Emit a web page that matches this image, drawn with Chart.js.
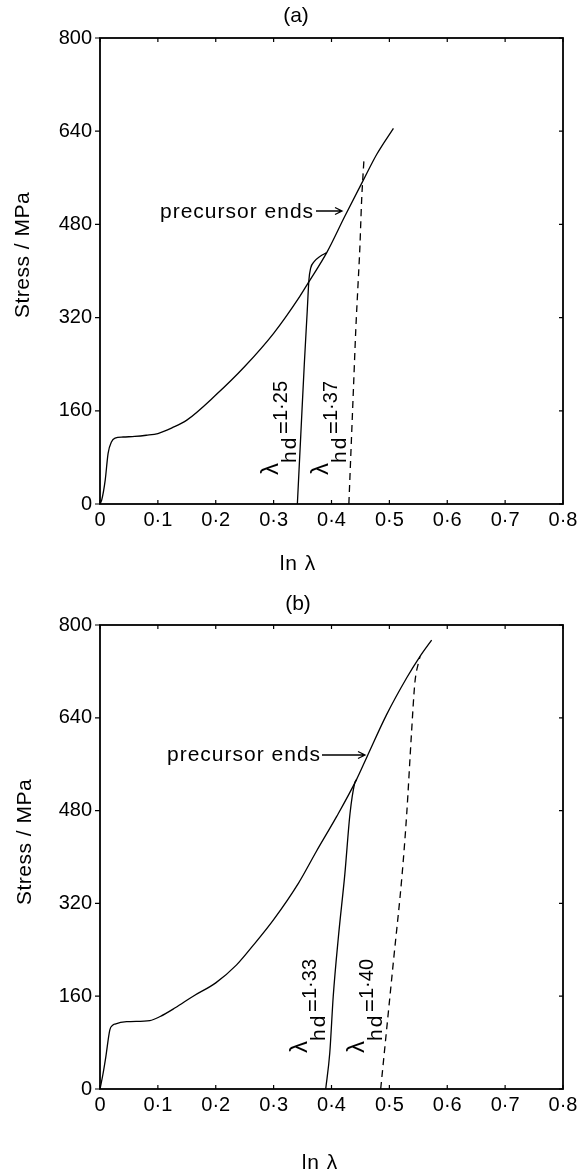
<!DOCTYPE html>
<html><head><meta charset="utf-8">
<script src="https://cdn.jsdelivr.net/npm/chart.js@4.4.1/dist/chart.umd.min.js"></script>
<style>
html,body{margin:0;padding:0;background:#fff;}
#wrap{position:relative;width:582px;height:1172px;overflow:hidden;}
canvas{position:absolute;left:0;}
</style></head><body>
<div id="wrap">
<canvas id="ca" width="582" height="586" style="top:0"></canvas>
<canvas id="cb" width="582" height="586" style="top:586px"></canvas>
</div>
<script>
// ---- tick values / labels ----
const xTickValues = [0, 0.1, 0.2, 0.3, 0.4, 0.5, 0.6, 0.7, 0.8];
const xTickLabels = ['0', '0·1', '0·2', '0·3', '0·4', '0·5', '0·6', '0·7', '0·8'];
const yTickValues = [0, 160, 320, 480, 640, 800];
const yTickLabels = ['0', '160', '320', '480', '640', '800'];

// ---- panel (a) ----
const aMainX = [0, 0.003, 0.009, 0.014, 0.020, 0.026, 0.040, 0.060, 0.080, 0.100, 0.125, 0.150, 0.200, 0.250, 0.300, 0.345, 0.360, 0.392, 0.423, 0.455, 0.478, 0.507];
const aMainY = [0, 7, 41, 87, 107, 113, 115, 116, 118, 121, 131, 144, 187, 236, 293, 356, 380, 432, 494, 556, 600, 645];
const a125X = [0.341, 0.347, 0.353, 0.358, 0.361, 0.364, 0.370, 0.380, 0.391];
const a125Y = [0, 120, 240, 330, 385, 405, 416, 425, 431];
const a137X = [0.430, 0.434, 0.438, 0.442, 0.446, 0.449, 0.452, 0.456];
const a137Y = [0, 100, 200, 300, 380, 440, 520, 590];

// ---- panel (b) ----
const bMainX = [0, 0.005, 0.010, 0.017, 0.022, 0.026, 0.046, 0.086, 0.104, 0.130, 0.161, 0.200, 0.236, 0.265, 0.300, 0.343, 0.374, 0.409, 0.443, 0.461, 0.495, 0.530, 0.553, 0.573];
const bMainY = [0, 25, 55, 102, 110, 112, 116, 118, 125, 140, 160, 183, 214, 248, 292, 355, 410, 470, 533, 572, 645, 709, 746, 774];
const b133X = [0.390, 0.397, 0.403, 0.412, 0.423, 0.432, 0.440, 0.443];
const b133Y = [0, 62, 160, 263, 370, 475, 527, 533];
const b140X = [0.485, 0.495, 0.507, 0.522, 0.530, 0.538, 0.544, 0.550, 0.553];
const b140Y = [0, 100, 220, 370, 475, 610, 700, 734, 746];

const FONT = 'Liberation Sans, Arial, sans-serif';
const pts = (xs, ys) => xs.map((x, i) => ({x: x, y: ys[i]}));

function drawArrow(ctx, x1, x2, y) {
  ctx.beginPath();
  ctx.moveTo(x1, y); ctx.lineTo(x2, y);
  ctx.moveTo(x2 - 7, y - 3.5); ctx.lineTo(x2, y); ctx.lineTo(x2 - 7, y + 3.5);
  ctx.stroke();
}

function drawLambda(ctx, bx, sy, val) {
  ctx.save();
  ctx.translate(bx, sy);
  ctx.rotate(-Math.PI / 2);
  ctx.textAlign = 'left';
  ctx.textBaseline = 'alphabetic';
  ctx.font = '24px ' + FONT;
  ctx.fillText('λ', 0, 1);
  ctx.font = '21px ' + FONT;
  ctx.letterSpacing = '2px';
  ctx.fillText('hd', 12, 19);
  ctx.letterSpacing = '0px';
  ctx.font = '22px ' + FONT;
  ctx.fillText('=', 41, 14);
  ctx.font = '20px ' + FONT;
  ctx.fillText(val, 54, 10);
  ctx.restore();
}

const annot = {
  id: 'annot',
  afterDraw(chart, args, o) {
    const ctx = chart.ctx, ca = chart.chartArea;
    const xs = chart.scales.x, ys = chart.scales.y;
    ctx.save();
    ctx.strokeStyle = '#000';
    ctx.fillStyle = '#000';
    ctx.lineWidth = 1.8;
    ctx.strokeRect(ca.left, ca.top, ca.right - ca.left, ca.bottom - ca.top);
    ctx.lineWidth = 1.2;
    ctx.beginPath();
    xTickValues.forEach(v => {
      const p = xs.getPixelForValue(v);
      ctx.moveTo(p, ca.bottom); ctx.lineTo(p, ca.bottom - 4);
      ctx.moveTo(p, ca.top); ctx.lineTo(p, ca.top + 4);
    });
    yTickValues.forEach(v => {
      const p = ys.getPixelForValue(v);
      ctx.moveTo(ca.left, p); ctx.lineTo(ca.left - 5, p);
      ctx.moveTo(ca.right, p); ctx.lineTo(ca.right - 4, p);
    });
    ctx.stroke();

    ctx.textAlign = 'center';
    ctx.textBaseline = 'middle';
    ctx.font = '21px ' + FONT;
    ctx.fillText(o.title, o.titlePos[0], o.titlePos[1]);
    ctx.letterSpacing = '1px';
    ctx.fillText('ln λ', o.xTitlePos[0], o.xTitlePos[1]);
    ctx.letterSpacing = '0.5px';
    ctx.save();
    ctx.translate(o.yTitlePos[0], o.yTitlePos[1]);
    ctx.rotate(-Math.PI / 2);
    ctx.fillText('Stress / MPa', 0, 0);
    ctx.restore();

    ctx.textAlign = 'left';
    ctx.letterSpacing = '1px';
    ctx.fillText('precursor ends', o.prec[0], o.prec[1]);
    ctx.letterSpacing = '0px';
    ctx.lineWidth = 1.3;
    drawArrow(ctx, o.arrow[0], o.arrow[1], o.arrow[2]);

    o.lambdas.forEach(l => drawLambda(ctx, l.bx, l.sy, l.val));
    ctx.restore();
  }
};

function makeChart(id, main, solid, dash, xH, padTop, opts) {
  const line = (data, dashed) => ({
    data: data, showLine: true, pointRadius: 0, borderColor: '#000',
    borderWidth: 1.3, borderDash: dashed ? [7, 5] : [], fill: false,
    cubicInterpolationMode: 'monotone'
  });
  return new Chart(document.getElementById(id), {
    type: 'scatter',
    data: { datasets: [line(main, false), line(solid, false), line(dash, true)] },
    options: {
      responsive: false, animation: false, devicePixelRatio: 1,
      layout: { padding: { top: padTop, right: 19, left: 0, bottom: 0 } },
      plugins: { legend: { display: false }, tooltip: { enabled: false }, annot: opts },
      scales: {
        x: {
          type: 'linear', min: 0, max: 0.8,
          afterBuildTicks: s => { s.ticks = xTickValues.map(v => ({value: v})); },
          afterFit: s => { s.height = xH; s.paddingLeft = 0; s.paddingRight = 0; },
          grid: { display: false, drawTicks: false }, border: { display: false },
          ticks: { padding: 4, autoSkip: false, maxRotation: 0, color: '#000',
                   font: { family: FONT, size: 20 }, callback: (v, i) => xTickLabels[i] }
        },
        y: {
          type: 'linear', min: 0, max: 800,
          afterBuildTicks: s => { s.ticks = yTickValues.map(v => ({value: v})); },
          afterFit: s => { s.width = 100; s.paddingTop = 0; s.paddingBottom = 0; },
          grid: { display: false, drawTicks: false }, border: { display: false },
          ticks: { padding: 8, color: '#000',
                   font: { family: FONT, size: 20 }, callback: (v, i) => yTickLabels[i] }
        }
      }
    },
    plugins: [annot]
  });
}

makeChart('ca', pts(aMainX, aMainY), pts(a125X, a125Y), pts(a137X, a137Y), 82, 38, {
  title: '(a)', titlePos: [296, 16], xTitlePos: [298, 564], yTitlePos: [23, 255],
  prec: [160, 212], arrow: [316, 342, 211],
  lambdas: [{val: '1·25', bx: 277, sy: 475}, {val: '1·37', bx: 327, sy: 475}]
});
makeChart('cb', pts(bMainX, bMainY), pts(b133X, b133Y), pts(b140X, b140Y), 83, 39, {
  title: '(b)', titlePos: [298, 18], xTitlePos: [320, 577], yTitlePos: [25, 256],
  prec: [167, 169], arrow: [322, 365, 169],
  lambdas: [{val: '1·33', bx: 306, sy: 467}, {val: '1·40', bx: 363, sy: 467}]
});
</script>
</body></html>
